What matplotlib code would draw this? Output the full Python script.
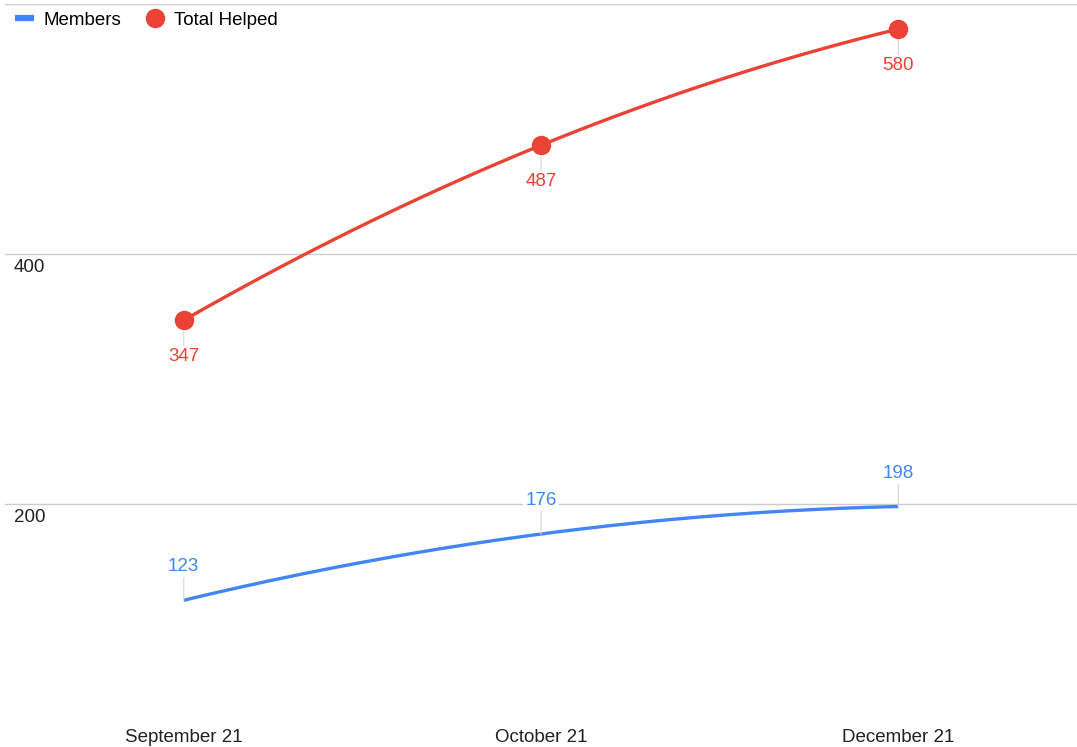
import numpy as np
import matplotlib
matplotlib.use("Agg")
import matplotlib.pyplot as plt
from matplotlib.lines import Line2D
from matplotlib.transforms import blended_transform_factory

# data
months = ["September 21", "October 21", "December 21"]
members = [123, 176, 198]
total_helped = [347, 487, 580]
grid_values = [200, 400, 600]

BLUE = "#4285F4"
RED = "#EA4335"
FS = 13.5

plt.rcParams["font.family"] = ["Liberation Sans", "DejaVu Sans"]

fig = plt.figure(figsize=(10.77, 7.47), dpi=100)
ax = fig.add_axes([5 / 1077, 1 - 704 / 747, 1 - 5 / 1077, 700 / 747])

x = np.arange(len(months))


def smooth(xs, ys):
    # quadratic through the three points, just for the curved look
    coef = np.polyfit(xs, ys, 2)
    xx = np.linspace(xs[0], xs[-1], 200)
    return xx, np.polyval(coef, xx)


for v in grid_values:
    ax.axhline(v, color="#cccccc", lw=1, zorder=0)

bx, by = smooth(x, members)
ax.plot(bx, by, color=BLUE, lw=2.4, solid_capstyle="butt", zorder=3)
rx, ry = smooth(x, total_helped)
ax.plot(rx, ry, color=RED, lw=2.4, zorder=3)
ax.plot(x, total_helped, "o", color=RED, ms=13, zorder=4)

# data labels with short leader lines
for xi, v in zip(x, members):
    ax.annotate(str(v), (xi, v), xytext=(0, 24), textcoords="offset points",
                ha="center", va="center", color=BLUE, fontsize=FS,
                bbox=dict(boxstyle="square,pad=0.1", fc="white", ec="none"),
                arrowprops=dict(arrowstyle="-", color="#dddddd", lw=1,
                                shrinkA=0, shrinkB=0), zorder=5)
for xi, v in zip(x, total_helped):
    ax.annotate(str(v), (xi, v), xytext=(0, -26), textcoords="offset points",
                ha="center", va="center", color=RED, fontsize=FS,
                bbox=dict(boxstyle="square,pad=0.1", fc="white", ec="none"),
                arrowprops=dict(arrowstyle="-", color="#dddddd", lw=1,
                                shrinkA=0, shrinkB=8), zorder=2)

# axis value labels sit under the gridline, inside the plot
trans = blended_transform_factory(ax.transAxes, ax.transData)
for v in [200, 400]:
    ax.text(0.008, v - 4, str(v), transform=trans, ha="left", va="top",
            fontsize=FS, color="#222222")

ax.set_xlim(-0.5, 2.5)
ax.set_ylim(40, 600)
ax.set_xticks(x)
ax.set_xticklabels(months, fontsize=FS, color="#222222")
ax.tick_params(axis="x", length=0, pad=18)
ax.set_yticks([])
for s in ax.spines.values():
    s.set_visible(False)

handles = [
    Line2D([], [], color=BLUE, lw=4.5, solid_capstyle="butt"),
    Line2D([], [], color=RED, marker="o", ms=13, lw=0),
]
ax.legend(handles, ["Members", "Total Helped"], ncol=2, frameon=False,
          loc="upper left", bbox_to_anchor=(-0.006, 1.013), fontsize=FS,
          handlelength=1.0, handletextpad=0.5, columnspacing=1.3)

fig.savefig("out.png", dpi=100)
